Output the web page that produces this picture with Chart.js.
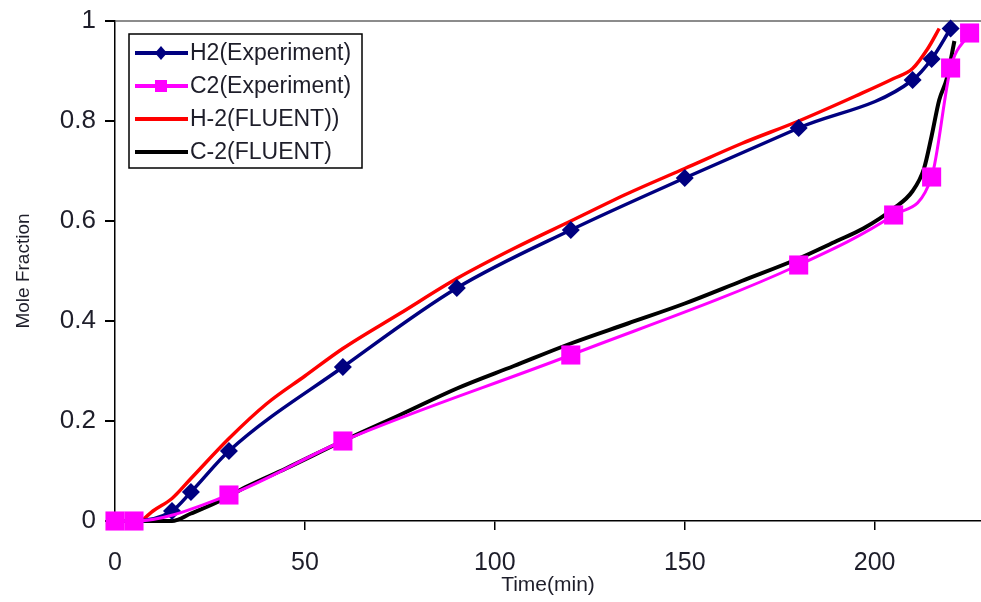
<!DOCTYPE html>
<html>
<head>
<meta charset="utf-8">
<script src="https://cdn.jsdelivr.net/npm/chart.js@4.4.1/dist/chart.umd.min.js"></script>
<style>
    html, body { margin: 0; padding: 0; background: #fff; }
</style>
</head>
<body>
<canvas id="chart" width="981" height="602"></canvas>
<script>
// values
var h2Time = [0, 5, 15, 20, 30, 60, 90, 120, 150, 180, 210, 215, 220];
var h2Exp = [0, 0, 0.02, 0.058, 0.14, 0.308, 0.466, 0.582, 0.686, 0.786, 0.882, 0.924, 0.985];

var c2Time = [0, 5, 30, 60, 120, 180, 205, 215, 220, 225];
var c2Exp = [0, 0, 0.052, 0.16, 0.332, 0.512, 0.612, 0.688, 0.906, 0.976];

var h2FluentTime = [7, 10, 15, 20, 30, 40, 50, 60, 75, 90, 105, 120, 135, 150, 165, 180, 195, 205, 210, 214, 217];
var h2Fluent = [0, 0.02, 0.045, 0.085, 0.165, 0.235, 0.29, 0.345, 0.415, 0.485, 0.545, 0.6, 0.655, 0.705, 0.755, 0.8, 0.85, 0.885, 0.905, 0.945, 0.985];

var c2FluentTime = [7, 15, 20, 27, 35, 45, 60, 75, 90, 105, 120, 135, 150, 165, 180, 190, 197, 205, 210, 213, 215, 217, 219, 221];
var c2Fluent = [0, 0, 0.015, 0.038, 0.07, 0.105, 0.16, 0.212, 0.265, 0.31, 0.355, 0.395, 0.435, 0.48, 0.525, 0.56, 0.585, 0.625, 0.66, 0.705, 0.77, 0.842, 0.885, 0.96];

var xTicks = [0, 50, 100, 150, 200];
var yTicks = [0, 0.2, 0.4, 0.6, 0.8, 1];

function pairs(xs, ys) {
    return xs.map(function (x, i) { return { x: x, y: ys[i] }; });
}

var FONT = '"Liberation Sans", Arial, sans-serif';
Chart.defaults.font.family = FONT;

// legend drawn inside the plot, like the original
var boxLegend = {
    id: 'boxLegend',
    afterDraw: function (chart) {
        var ctx = chart.ctx;
        var items = [
            { label: 'H2(Experiment)', color: '#000080', marker: 'diamond' },
            { label: 'C2(Experiment)', color: '#ff00ff', marker: 'square' },
            { label: 'H-2(FLUENT))', color: '#ff0000' },
            { label: 'C-2(FLUENT)', color: '#000000' }
        ];
        ctx.save();
        ctx.fillStyle = '#fff';
        ctx.fillRect(129, 34, 233, 134);
        ctx.strokeStyle = '#000';
        ctx.lineWidth = 1.5;
        ctx.strokeRect(129, 34, 233, 134);
        items.forEach(function (it, i) {
            var y = 53 + i * 33;
            ctx.strokeStyle = it.color;
            ctx.lineWidth = 4;
            ctx.beginPath();
            ctx.moveTo(135, y);
            ctx.lineTo(188, y);
            ctx.stroke();
            ctx.fillStyle = it.color;
            if (it.marker === 'diamond') {
                ctx.beginPath();
                ctx.moveTo(161, y - 7);
                ctx.lineTo(167, y);
                ctx.lineTo(161, y + 7);
                ctx.lineTo(155, y);
                ctx.closePath();
                ctx.fill();
            } else if (it.marker === 'square') {
                ctx.fillRect(155, y - 6, 12, 12);
            }
            ctx.fillStyle = '#1e1e2a';
            ctx.font = '23px ' + FONT;
            ctx.textAlign = 'left';
            ctx.textBaseline = 'middle';
            ctx.fillText(it.label, 190, y + 1);
        });
        ctx.restore();
    }
};

var ctx = document.getElementById('chart').getContext('2d');

var chart = new Chart(ctx, {
    type: 'line',
    data: {
        datasets: [{
            label: 'C2(Experiment)',
            data: pairs(c2Time, c2Exp),
            borderColor: '#ff00ff',
            backgroundColor: '#ff00ff',
            borderWidth: 3,
            pointStyle: 'rect',
            pointRadius: 13.5,
            pointBorderWidth: 0,
            cubicInterpolationMode: 'monotone',
            clip: false
        }, {
            label: 'H2(Experiment)',
            data: pairs(h2Time, h2Exp),
            borderColor: '#000080',
            backgroundColor: '#000080',
            borderWidth: 3.5,
            pointStyle: 'rectRot',
            pointRadius: 9,
            pointBorderWidth: 0,
            cubicInterpolationMode: 'monotone',
            clip: false
        }, {
            label: 'H-2(FLUENT))',
            data: pairs(h2FluentTime, h2Fluent),
            borderColor: '#ff0000',
            borderWidth: 3.5,
            pointRadius: 0,
            cubicInterpolationMode: 'monotone',
            clip: false
        }, {
            label: 'C-2(FLUENT)',
            data: pairs(c2FluentTime, c2Fluent),
            borderColor: '#000000',
            borderWidth: 4,
            pointRadius: 0,
            cubicInterpolationMode: 'monotone',
            clip: false
        }]
    },
    options: {
        responsive: false,
        animation: false,
        devicePixelRatio: 1,
        layout: { autoPadding: false, padding: { top: 21, right: 0, left: 0, bottom: 0 } },
        plugins: {
            legend: { display: false },
            tooltip: { enabled: false }
        },
        scales: {
            x: {
                type: 'linear',
                min: 0,
                max: 228,
                afterFit: function (scale) {
                    scale.height = 81;
                    scale.paddingLeft = 0;
                    scale.paddingRight = 0;
                },
                afterBuildTicks: function (scale) {
                    scale.ticks = xTicks.map(function (v) { return { value: v }; });
                },
                border: { color: '#000', width: 1.5 },
                grid: {
                    drawOnChartArea: false,
                    tickColor: '#000',
                    tickLength: 9,
                    lineWidth: 1.5
                },
                ticks: {
                    color: '#1e1e2a',
                    font: { size: 25 },
                    padding: 18,
                    maxRotation: 0
                },
                title: {
                    display: true,
                    text: 'Time(min)',
                    color: '#1e1e2a',
                    font: { size: 21 },
                    padding: { top: 0, bottom: 4 }
                }
            },
            y: {
                min: 0,
                max: 1,
                afterFit: function (scale) {
                    scale.width = 115;
                    scale.paddingTop = 0;
                    scale.paddingBottom = 0;
                },
                afterBuildTicks: function (scale) {
                    scale.ticks = yTicks.map(function (v) { return { value: v }; });
                },
                border: { color: '#000', width: 1.5 },
                grid: {
                    color: function (c) { return c.tick && c.tick.value === 1 ? '#8c8c8c' : 'rgba(0,0,0,0)'; },
                    tickColor: '#000',
                    tickLength: 10,
                    lineWidth: 2
                },
                ticks: {
                    color: '#1e1e2a',
                    font: { size: 26 },
                    padding: 9,
                    callback: function (v) { return String(Math.round(v * 10) / 10); }
                },
                title: {
                    display: true,
                    text: 'Mole Fraction',
                    color: '#1e1e2a',
                    font: { size: 19 },
                    padding: { top: 12, bottom: 0 }
                }
            }
        }
    },
    plugins: [boxLegend]
});
</script>
</body>
</html>
